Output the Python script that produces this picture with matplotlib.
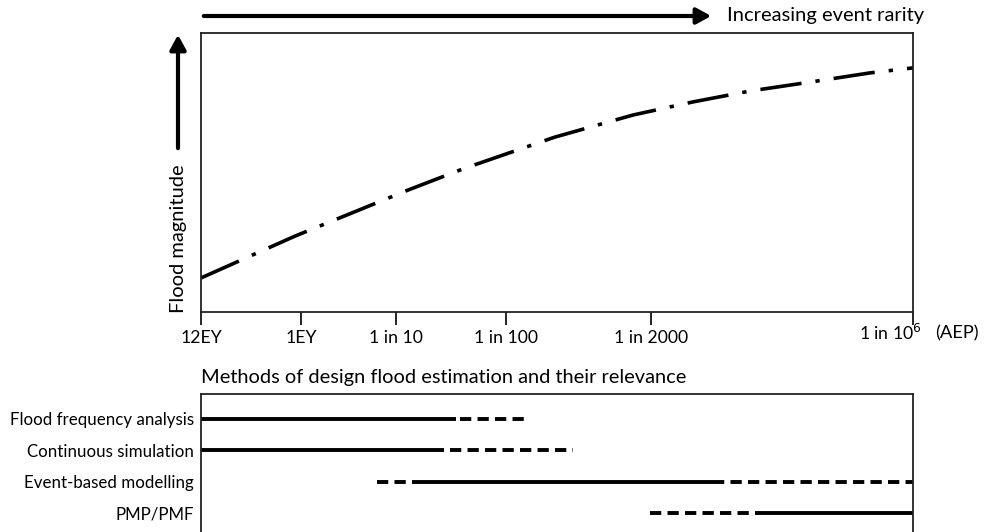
import matplotlib.pyplot as plt
from matplotlib.patches import FancyArrowPatch
from matplotlib.transforms import blended_transform_factory

plt.rcParams['font.family'] = ['Lato', 'DejaVu Sans']

# AEP axis: tick positions on an arbitrary "rarity" scale
aep_pos = [0.0, 1.0, 1.95, 3.05, 4.5, 7.12]
aep_labels = ['12EY', '1EY', '1 in 10', '1 in 100', '1 in 2000', '']

# flood magnitude curve (relative units 0-10)
curve_x = [0.0, 0.94, 2.07, 2.62, 3.54, 4.32, 4.92, 5.49, 6.09, 6.69, 7.12]
curve_y = [1.22, 2.72, 4.37, 5.13, 6.27, 7.06, 7.53, 7.92, 8.24, 8.57, 8.75]

# methods and the range over which each applies
methods = ['Flood frequency analysis', 'Continuous simulation',
           'Event-based modelling', 'PMP/PMF']
solid_ranges = [[(0.0, 2.55)], [(0.0, 2.43)], [(2.21, 5.12)], [(5.56, 7.12)]]
dashed_ranges = [[(2.59, 3.27)], [(2.49, 3.72)],
                 [(1.76, 2.21), (5.12, 7.12)], [(4.49, 5.56)]]

fig = plt.figure(figsize=(9.96, 5.32), dpi=100)

# top panel
ax = fig.add_axes([201/996, 1 - 312/532, 712/996, 279/532])
ax.plot(curve_x, curve_y, color='black', lw=2.6,
        linestyle=(0, (11.5, 3.9, 1.2, 3.9)), dash_capstyle='butt',
        clip_on=False)
ax.set_xlim(0, 7.12)
ax.set_ylim(0, 10)
ax.set_xticks(aep_pos)
ax.set_xticklabels(aep_labels, fontsize=12.7)
ax.set_yticks([])
ax.tick_params(axis='x', direction='out', length=9, width=1.2, pad=4)
for s in ax.spines.values():
    s.set_linewidth(1.3)
    s.set_color('#222222')

trans = blended_transform_factory(ax.transData, ax.transAxes)
ax.text(7.12 + 0.09, -0.075, '1 in 10$^{6}$', ha='right', va='center',
        fontsize=12.7, transform=trans)
ax.text(7.12 + 0.22, -0.075, '(AEP)', ha='left', va='center',
        fontsize=13.2, transform=trans)

# "Flood magnitude" label and arrow
fig.text(178/996, 1 - 239/532, 'Flood magnitude', rotation=90,
         ha='center', va='center', fontsize=14.5)
fig.patches.append(FancyArrowPatch(
    (178/996, 1 - 151/532), (178/996, 1 - 32/532),
    transform=fig.transFigure, arrowstyle='-|>,head_length=5.5,head_width=3',
    lw=3, color='black', mutation_scale=1.6))

# "Increasing event rarity" arrow
fig.patches.append(FancyArrowPatch(
    (201/996, 1 - 16/532), (714/996, 1 - 16/532),
    transform=fig.transFigure, arrowstyle='-|>,head_length=5.5,head_width=3',
    lw=3, color='black', mutation_scale=1.6))
fig.text(727/996, 1 - 16/532, 'Increasing event rarity', ha='left',
         va='center', fontsize=14.5)

# bottom panel
bx = fig.add_axes([201/996, 1 - 544/532, 712/996, 150/532])
for i, name in enumerate(methods):
    for a, b in solid_ranges[i]:
        bx.plot([a, b], [i, i], color='black', lw=2.8,
                solid_capstyle='butt', clip_on=False)
    for a, b in dashed_ranges[i]:
        bx.plot([a, b], [i, i], color='black', lw=2.8,
                linestyle=(0, (2.9, 1.6)), dash_capstyle='butt',
                clip_on=False)
bx.set_xlim(0, 7.12)
bx.set_ylim(4.0, -0.8)
bx.set_xticks([])
bx.set_yticks(range(len(methods)))
bx.set_yticklabels(methods, fontsize=12.2)
bx.tick_params(axis='y', length=0, pad=5)
for s in bx.spines.values():
    s.set_linewidth(1.3)
    s.set_color('#222222')
bx.set_title('Methods of design flood estimation and their relevance',
             loc='left', fontsize=14.4, pad=8)

fig.savefig('out.png', dpi=100)
